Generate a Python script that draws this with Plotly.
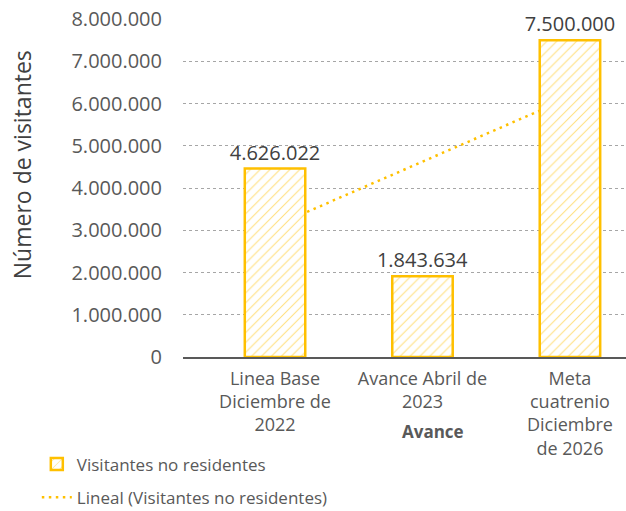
import numpy as np
import plotly.graph_objects as go

categorias = ["Linea Base<br>Diciembre de<br>2022", "Avance Abril de<br>2023",
              "Meta<br>cuatrenio<br>Diciembre<br>de 2026"]
visitantes = [4460000, 1910000, 7500000]
etiquetas = ["4.626.022", "1.843.634", "7.500.000"]
ticks_y = [0, 1000000, 2000000, 3000000, 4000000, 5000000, 6000000, 7000000, 8000000]

AMARILLO = "#FFC000"
GRIS = "#595959"
FUENTE = "Open Sans"

# tendencia lineal sobre los puntos 1..3 (como la linea de tendencia de Excel)
xs = np.arange(1, len(visitantes) + 1)
pend, inter = np.polyfit(xs, visitantes, 1)
tendencia = list(pend * xs + inter)

fig = go.Figure()

# la linea en el eje base, las barras en un eje superpuesto para taparla
fig.add_trace(go.Scatter(
    x=categorias, y=tendencia, mode="lines",
    name="Lineal (Visitantes no residentes)",
    line=dict(color=AMARILLO, width=2.5, dash="2.5px,4.5px"),
    legendrank=2, legendgroup="b", hoverinfo="skip"))

fig.add_trace(go.Bar(
    x=categorias, y=visitantes, name="Visitantes no residentes",
    xaxis="x2", yaxis="y2",
    text=etiquetas, textposition="outside", cliponaxis=False,
    constraintext="none",
    textfont=dict(size=20, color="#404040", family=FUENTE),
    width=0.41,
    marker=dict(color="white", line=dict(color=AMARILLO, width=2.5),
                pattern=dict(shape="/", fgcolor=AMARILLO, bgcolor="white",
                             size=7, solidity=0.15)),
    legendrank=1, legendgroup="a"))

fig.update_layout(
    width=626, height=511,
    margin=dict(l=183, r=0, t=19, b=154, autoexpand=False),
    paper_bgcolor="white", plot_bgcolor="white",
    separators=",.",
    font=dict(family=FUENTE, color=GRIS, size=16),
    showlegend=True,
    legend=dict(x=-0.33, y=-0.265, xanchor="left", yanchor="top",
                orientation="v", traceorder="grouped", tracegroupgap=8,
                font=dict(size=17, color=GRIS, family=FUENTE)),
    xaxis=dict(range=[-0.624, 2.38], showline=True, linecolor=GRIS, linewidth=2,
               ticks="", ticklabelstandoff=4, automargin=False,
               tickfont=dict(size=18, color=GRIS, family=FUENTE)),
    yaxis=dict(range=[0, 8000000], tickvals=ticks_y, tickformat=",d",
               showgrid=True, gridcolor="#A6A6A6", griddash="dot", gridwidth=1,
               zeroline=False, showline=False, ticks="", automargin=False,
               ticklabelstandoff=20, ticklabeloverflow="allow",
               tickfont=dict(size=20, color=GRIS, family=FUENTE)),
    xaxis2=dict(overlaying="x", matches="x", visible=False),
    yaxis2=dict(overlaying="y", matches="y", visible=False),
)

fig.add_annotation(text="Número de visitantes", textangle=-90,
                   xref="paper", yref="paper", x=-0.363, y=0.568,
                   xanchor="center", yanchor="middle", showarrow=False,
                   font=dict(size=23, color="#404040", family=FUENTE))
fig.add_annotation(text="<b>Avance</b>", xref="paper", yref="paper",
                   x=0.564, y=-0.219, xanchor="center", yanchor="middle",
                   showarrow=False,
                   font=dict(size=17, color=GRIS, family=FUENTE))

# quitar el margen por defecto del body para que la figura ocupe toda la ventana
fig.write_html("out.html", config={"displayModeBar": False},
               post_script="document.body.style.margin='0';")
